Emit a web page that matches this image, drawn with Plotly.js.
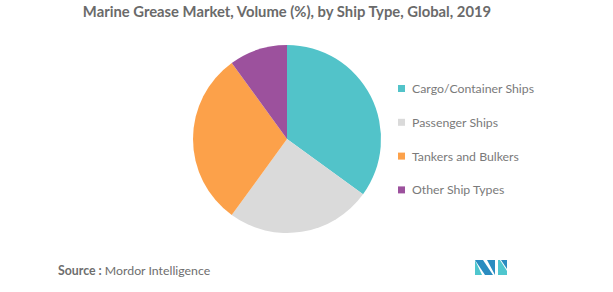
<!DOCTYPE html>
<html><head><meta charset="utf-8">
<script src="https://cdn.plot.ly/plotly-3.0.1.min.js"></script>
<style>html,body{margin:0;padding:0;background:#fff}#chart{width:613px;height:292px}</style>
</head><body><div id="chart"></div>
<script>
const categories = ["Cargo/Container Ships", "Passenger Ships", "Tankers and Bulkers", "Other Ship Types"];
const shares = [35, 25, 30, 10];
const colors = ["#52C3C9", "#DADADA", "#FCA14A", "#9C519D"];
const titleText = "Marine Grease Market, Volume (%), by Ship Type, Global, 2019";

const W = 613, H = 292;
const font = "Lato, 'Open Sans', sans-serif";

const pie = {
  type: "pie",
  labels: categories,
  values: shares,
  marker: {colors: colors, line: {width: 0}},
  sort: false,
  direction: "clockwise",
  rotation: 0,
  textinfo: "none",
  hoverinfo: "label+percent",
  showlegend: false,
  domain: {x: [(287 - 94) / W, (287 + 94) / W], y: [1 - 233 / H, 1 - 45 / H]}
};

const shapes = [];
const annotations = [];
const legTop = 88.5, legStep = 33.8;
categories.forEach((c, i) => {
  const yc = legTop + i * legStep;
  shapes.push({type: "rect", xref: "paper", yref: "paper",
    x0: 398 / W, x1: 405 / W, y0: 1 - (yc + 3.5) / H, y1: 1 - (yc - 3.5) / H,
    fillcolor: colors[i], line: {width: 0}});
  annotations.push({xref: "paper", yref: "paper", x: 410 / W, y: 1 - yc / H,
    xanchor: "left", yanchor: "middle", showarrow: false, text: c,
    font: {family: font, size: 12.3, color: "#7a7a7a"}});
});

// source line
annotations.push({xref: "paper", yref: "paper", x: 56 / W, y: 1 - 270 / H,
  xanchor: "left", yanchor: "middle", showarrow: false,
  text: "<b>Source :</b> Mordor Intelligence",
  font: {family: font, size: 12.3, color: "#6e6e6e"}});

// logo
shapes.push({type: "path", xref: "paper", yref: "paper", line: {width: 0}, fillcolor: "#4FC6CE",
  path: `M ${475/W} ${1-260/H} L ${475/W} ${1-275/H} L ${482/W} ${1-275/H} Z`});
shapes.push({type: "path", xref: "paper", yref: "paper", line: {width: 0}, fillcolor: "#2A8CC0",
  path: `M ${475/W} ${1-260/H} L ${483/W} ${1-260/H} L ${493/W} ${1-275/H} L ${485/W} ${1-275/H} Z`});
shapes.push({type: "path", xref: "paper", yref: "paper", line: {width: 0}, fillcolor: "#2A8CC0",
  path: `M ${487/W} ${1-260/H} L ${495/W} ${1-260/H} L ${495/W} ${1-275/H} Z`});
shapes.push({type: "path", xref: "paper", yref: "paper", line: {width: 0}, fillcolor: "#4FC6CE",
  path: `M ${498/W} ${1-260/H} L ${500/W} ${1-260/H} L ${507/W} ${1-271/H} L ${507/W} ${1-275/H} L ${498/W} ${1-275/H} Z`});
shapes.push({type: "path", xref: "paper", yref: "paper", line: {width: 0}, fillcolor: "#2A8CC0",
  path: `M ${501/W} ${1-260/H} L ${507/W} ${1-260/H} L ${507/W} ${1-269/H} Z`});

const layout = {
  width: W, height: H,
  margin: {l: 0, r: 0, t: 0, b: 0},
  paper_bgcolor: "#fff",
  title: {text: "<b>" + titleText + "</b>", x: 287 / W, xanchor: "center", y: 1 - 12 / H, yanchor: "middle",
    font: {family: font, size: 14.8, color: "#6a6a6a"}},
  shapes: shapes,
  annotations: annotations,
  showlegend: false
};

Plotly.newPlot("chart", [pie], layout, {displayModeBar: false, staticPlot: true});
</script></body></html>
